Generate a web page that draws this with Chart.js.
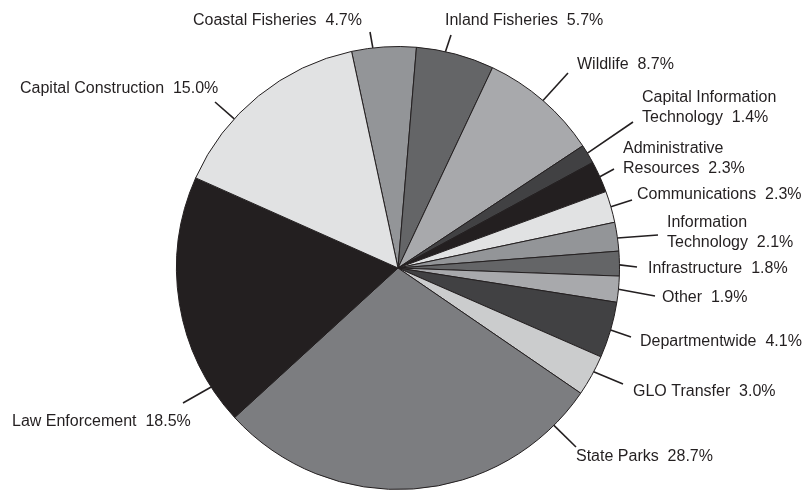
<!DOCTYPE html>
<html>
<head>
<meta charset="utf-8">
<script src="https://cdn.jsdelivr.net/npm/chart.js@4.4.1/dist/chart.umd.min.js"></script>
<style>
  html, body { margin: 0; padding: 0; background: #fff; }
  #wrap { width: 806px; height: 490px; }
</style>
</head>
<body>
<div id="wrap"><canvas id="budget-pie"></canvas></div>
<script>
// budget share by program area, percent
const categories = [
    'Coastal Fisheries', 'Inland Fisheries', 'Wildlife',
    'Capital Information\nTechnology', 'Administrative\nResources', 'Communications',
    'Information\nTechnology', 'Infrastructure', 'Other', 'Departmentwide',
    'GLO Transfer', 'State Parks', 'Law Enforcement', 'Capital Construction'
];
const shares = [4.7, 5.7, 8.7, 1.4, 2.3, 2.3, 2.1, 1.8, 1.9, 4.1, 3.0, 28.7, 18.5, 15.0];
const sliceColors = [
    '#939598', '#646567', '#a8a9ac', '#414143', '#231f20', '#e1e2e3', '#939598',
    '#646567', '#a8a9ac', '#414143', '#cbcccd', '#7c7d80', '#231f20', '#e1e2e3'
];

// callout layout: where along the slice the leader starts (0..1),
// leader end point, and text anchor (left x, middle y of first line)
const callouts = [
    { t: 0.33, end: [370, 32],  text: [193, 21] },
    { t: 0.37, end: [451, 35],  text: [445, 21] },
    { t: 0.50, end: [568, 73],  text: [577, 65] },
    { t: 0.45, end: [633, 122], text: [642, 98] },
    { t: 0.50, end: [614, 169], text: [623, 149] },
    { t: 0.50, end: [632, 200], text: [637, 195] },
    { t: 0.55, end: [658, 235], text: [667, 223] },
    { t: 0.55, end: [637, 267], text: [648, 269] },
    { t: 0.50, end: [655, 296], text: [662, 298] },
    { t: 0.50, end: [631, 337], text: [640, 342] },
    { t: 0.40, end: [623, 384], text: [633, 392] },
    { t: 0.105, end: [576, 447], text: [576, 457] },
    { t: 0.15, end: [183, 403], text: [12, 422] },
    { t: 0.34, end: [215, 102], text: [20, 89] }
];

const ink = '#231f20';

const calloutPlugin = {
    id: 'callouts',
    afterDatasetsDraw(chart) {
        const ctx = chart.ctx;
        const arcs = chart.getDatasetMeta(0).data;
        ctx.save();
        ctx.strokeStyle = ink;
        ctx.fillStyle = ink;
        ctx.lineWidth = 1.6;
        ctx.font = '16px "Liberation Sans", Arial, sans-serif';
        ctx.textAlign = 'left';
        ctx.textBaseline = 'middle';
        arcs.forEach((arc, i) => {
            const c = callouts[i];
            const a = arc.startAngle + c.t * (arc.endAngle - arc.startAngle);
            const sx = arc.x + arc.outerRadius * Math.cos(a);
            const sy = arc.y + arc.outerRadius * Math.sin(a);
            ctx.beginPath();
            ctx.moveTo(sx, sy);
            ctx.lineTo(c.end[0], c.end[1]);
            ctx.stroke();

            const lines = categories[i].split('\n');
            lines[lines.length - 1] += '  ' + shares[i].toFixed(1) + '%';
            lines.forEach((line, k) => {
                ctx.fillText(line, c.text[0], c.text[1] + k * 19.5);
            });
        });
        ctx.restore();
    }
};

new Chart(document.getElementById('budget-pie'), {
    type: 'pie',
    data: {
        labels: categories,
        datasets: [{
            data: shares,
            backgroundColor: sliceColors,
            borderColor: ink,
            borderWidth: 1
        }]
    },
    options: {
        responsive: true,
        maintainAspectRatio: false,
        animation: false,
        rotation: -12.1,
        layout: { padding: { top: 46, bottom: 0, left: 176, right: 186 } },
        plugins: {
            legend: { display: false },
            tooltip: { enabled: false }
        }
    },
    plugins: [calloutPlugin]
});
</script>
</body>
</html>
